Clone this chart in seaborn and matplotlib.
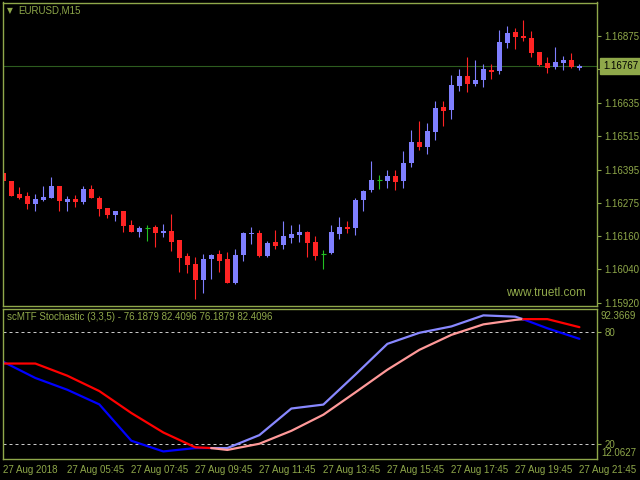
import numpy as np
import pandas as pd
import seaborn as sns
import matplotlib.pyplot as plt
import matplotlib.transforms as mtransforms

# EURUSD M15, 27 Aug 2018 03:45 .. 21:45 (73 bars)
opens = [1.16382, 1.16355, 1.16308, 1.16301, 1.16273, 1.16287, 1.16295, 1.16337, 1.16281, 1.16290,
         1.16281, 1.16326, 1.16294, 1.16258, 1.16234, 1.16247, 1.16197, 1.16174, 1.16186, 1.16190,
         1.16170, 1.16177, 1.16144, 1.16087, 1.16058, 1.16002, 1.16077, 1.16094, 1.16076, 1.15990,
         1.16090, 1.16165, 1.16169, 1.16087, 1.16137, 1.16126, 1.16151, 1.16162, 1.16174, 1.16137,
         1.16095, 1.16097, 1.16165, 1.16190, 1.16187, 1.16287, 1.16322, 1.16357, 1.16355, 1.16372,
         1.16355, 1.16419, 1.16494, 1.16476, 1.16530, 1.16619, 1.16608, 1.16694, 1.16729, 1.16701,
         1.16715, 1.16751, 1.16747, 1.16847, 1.16886, 1.16872, 1.16865, 1.16815, 1.16776, 1.16761,
         1.16776, 1.16786, 1.16758]
highs = [1.16382, 1.16355, 1.16333, 1.16315, 1.16308, 1.16337, 1.16369, 1.16337, 1.16301, 1.16304,
         1.16337, 1.16340, 1.16301, 1.16258, 1.16247, 1.16247, 1.16216, 1.16195, 1.16196, 1.16196,
         1.16201, 1.16237, 1.16144, 1.16096, 1.16084, 1.16094, 1.16093, 1.16108, 1.16101, 1.16112,
         1.16172, 1.16190, 1.16180, 1.16140, 1.16180, 1.16212, 1.16197, 1.16201, 1.16176, 1.16158,
         1.16108, 1.16197, 1.16226, 1.16212, 1.16294, 1.16322, 1.16426, 1.16376, 1.16394, 1.16394,
         1.16462, 1.16537, 1.16569, 1.16562, 1.16640, 1.16640, 1.16733, 1.16754, 1.16797, 1.16786,
         1.16772, 1.16772, 1.16894, 1.16908, 1.16901, 1.16929, 1.16890, 1.16815, 1.16797, 1.16833,
         1.16801, 1.16811, 1.16772]
lows = [1.16334, 1.16302, 1.16290, 1.16256, 1.16248, 1.16284, 1.16295, 1.16248, 1.16248, 1.16263,
        1.16273, 1.16295, 1.16231, 1.16224, 1.16213, 1.16174, 1.16174, 1.16156, 1.16141, 1.16120,
        1.16156, 1.16106, 1.16031, 1.16027, 1.15934, 1.15956, 1.16006, 1.16031, 1.15989, 1.15988,
        1.16070, 1.16131, 1.16084, 1.16083, 1.16112, 1.16112, 1.16133, 1.16137, 1.16083, 1.16072,
        1.16040, 1.16094, 1.16147, 1.16169, 1.16162, 1.16247, 1.16315, 1.16326, 1.16330, 1.16322,
        1.16331, 1.16406, 1.16465, 1.16452, 1.16501, 1.16551, 1.16576, 1.16676, 1.16672, 1.16694,
        1.16690, 1.16719, 1.16737, 1.16829, 1.16826, 1.16854, 1.16797, 1.16765, 1.16740, 1.16754,
        1.16751, 1.16758, 1.16751]
closes = [1.16356, 1.16302, 1.16295, 1.16273, 1.16290, 1.16297, 1.16337, 1.16284, 1.16290, 1.16281,
          1.16326, 1.16295, 1.16256, 1.16234, 1.16247, 1.16195, 1.16174, 1.16187, 1.16186, 1.16169,
          1.16177, 1.16138, 1.16081, 1.16056, 1.16002, 1.16076, 1.16089, 1.16070, 1.15990, 1.16090,
          1.16169, 1.16170, 1.16087, 1.16133, 1.16122, 1.16158, 1.16165, 1.16172, 1.16133, 1.16087,
          1.16095, 1.16172, 1.16190, 1.16183, 1.16287, 1.16319, 1.16358, 1.16357, 1.16372, 1.16351,
          1.16419, 1.16494, 1.16476, 1.16533, 1.16615, 1.16604, 1.16697, 1.16729, 1.16701, 1.16715,
          1.16754, 1.16744, 1.16851, 1.16883, 1.16869, 1.16865, 1.16811, 1.16769, 1.16758, 1.16779,
          1.16786, 1.16761, 1.16767]

bid = 1.16767
# 1.16755 sits under the bid box, so only its tick mark shows
price_ticks = [1.16875, 1.16755, 1.16635, 1.16515, 1.16395, 1.16275, 1.16160, 1.16040, 1.15920]

time_ticks = [0, 8, 16, 24, 32, 40, 48, 56, 64, 72]
time_labels = ['27 Aug 2018', '27 Aug 05:45', '27 Aug 07:45', '27 Aug 09:45', '27 Aug 11:45',
               '27 Aug 13:45', '27 Aug 15:45', '27 Aug 17:45', '27 Aug 19:45', '27 Aug 21:45']

# scMTF stochastic (H1 values spread over M15 bars)
stoch_bars = [0, 4, 8, 12, 16, 20, 24, 26, 28, 32, 36, 40, 44, 48, 52, 56, 60, 64, 65, 68, 72]
main_k = [63.9, 55.3, 49.0, 41.2, 21.8, 16.1, 17.9, 17.9, 17.9, 24.8, 39.0, 41.1, 57.1, 73.5,
          79.4, 82.8, 88.7, 88.0, 86.6, 81.8, 76.1879]
signal_d = [63.0, 63.0, 56.5, 48.3, 36.6, 26.2, 18.3, 17.9, 16.9, 20.2, 27.1, 35.7, 47.6, 59.7,
            70.3, 78.3, 83.9, 86.3, 86.7, 86.7, 82.4096]
stoch_max, stoch_min = 92.3669, 12.0627
turn_up, turn_down = 26, 65

olive = '#8FA84A'
bull_c, bear_c, doji_c = '#7F7FFF', '#FF2424', '#22C022'

sns.set_style('dark', {'axes.facecolor': 'black', 'figure.facecolor': 'black'})
plt.rcParams['font.family'] = ['Liberation Sans', 'DejaVu Sans']
plt.rcParams['font.size'] = 7

W, H = 640, 480
fig = plt.figure(figsize=(6.4, 4.8), dpi=100)
ax = fig.add_axes([3 / W, 1 - 306 / H, 594 / W, 303.5 / H])
ax2 = fig.add_axes([3 / W, 1 - 459 / H, 594 / W, 150.5 / H])

# candles
df = pd.DataFrame({'o': opens, 'h': highs, 'l': lows, 'c': closes})
df['x'] = np.arange(len(df))
df['color'] = np.where(df.c > df.o, bull_c, np.where(df.c < df.o, bear_c, doji_c))
ax.vlines(df.x, df.l, df.h, colors=df.color, lw=0.8)
body = df[df.c != df.o]
ax.bar(body.x, (body.c - body.o).abs(), bottom=body[['o', 'c']].min(axis=1),
       width=0.625, color=body.color, linewidth=0)
doji = df[df.c == df.o]
ax.hlines(doji.c, doji.x - 0.33, doji.x + 0.33, colors=doji_c, lw=0.8)
ax.axhline(bid, color='#2D5C1F', lw=0.8, zorder=0)

# stochastic lines, coloured by direction
st = pd.DataFrame({'bar': stoch_bars, 'main': main_k, 'signal': signal_d})
parts = [(0, turn_up, False), (turn_up, turn_down, True), (turn_down, 72, False)]
for lo, hi, rising in parts:
    seg = st[(st.bar >= lo) & (st.bar <= hi)]
    sns.lineplot(data=seg, x='bar', y='main', color='#8888FF' if rising else '#0000FF',
                 lw=1.6, estimator=None, sort=False, ax=ax2)
    sns.lineplot(data=seg, x='bar', y='signal', color='#FF9999' if rising else '#FF0000',
                 lw=1.6, estimator=None, sort=False, ax=ax2)
for lvl in (80, 20):
    ax2.axhline(lvl, color='#C8C8C8', lw=0.72, ls=(0, (3, 3)), zorder=0)

for a in (ax, ax2):
    a.set_xlim(-0.04, 74.2)
    a.set_xlabel('')
    a.set_ylabel('')
    a.grid(False)
    for s in a.spines.values():
        s.set_color(olive)
        s.set_linewidth(1)
    a.yaxis.tick_right()
    a.tick_params(colors=olive, labelcolor=olive, length=3, width=0.8, direction='out',
                  labelsize=7, pad=2.2)

ax.set_ylim(1.15908, 1.16993)
ax.set_yticks(price_ticks)
ax.set_yticklabels(['' if p == 1.16755 else f'{p:.5f}' for p in price_ticks])
ax.set_xticks([])

ax2.set_ylim(stoch_min, stoch_max)
ax2.set_yticks([80, 20])
ax2.set_yticklabels(['80', '20'])
ax2.set_xticks(time_ticks)
ax2.set_xticklabels(time_labels)
ax2.tick_params(axis='x', length=3, pad=1.5)
plt.setp(ax2.get_xticklabels(), ha='left')

# current price box
trans = mtransforms.blended_transform_factory(ax.transAxes, ax.transData)
ax.text(1.0101, bid, '1.16767', transform=trans, ha='left', va='center', color='black',
        fontsize=7, clip_on=False, zorder=10,
        bbox=dict(boxstyle='square,pad=0.3', fc=olive, ec=olive))

# stochastic scale extremes
trans2 = mtransforms.blended_transform_factory(ax2.transAxes, ax2.transAxes)
ax2.text(1.0067, 0.985, f'{stoch_max:.4f}', transform=trans2, ha='left', va='top',
         color=olive, fontsize=7, clip_on=False)
ax2.text(1.0067, 0.005, f'{stoch_min:.4f}', transform=trans2, ha='left', va='bottom',
         color=olive, fontsize=7, clip_on=False)

# header texts
fig.text(6.5 / W, 1 - 10.5 / H, '\u25bc', family='DejaVu Sans', fontsize=5.5, color=olive,
         ha='left', va='center')
fig.text(18 / W, 1 - 10.7 / H, 'EURUSD,M15', color=olive, fontsize=7, ha='left', va='center')
fig.text(7 / W, 1 - 317.3 / H, 'scMTF Stochastic (3,3,5) - 76.1879 82.4096 76.1879 82.4096',
         color=olive, fontsize=7, ha='left', va='center')
fig.text(506 / W, 1 - 293.3 / H, 'www.truetl.com', color=olive, fontsize=8.5,
         ha='left', va='center')

fig.savefig('out.png', dpi=100, facecolor='black')
